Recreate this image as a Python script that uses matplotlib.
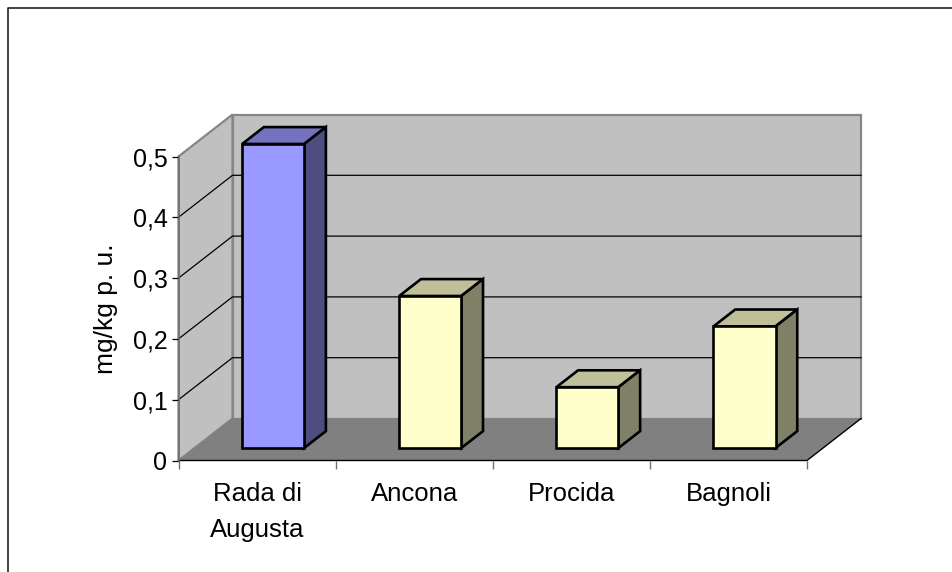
import numpy as np
import matplotlib
matplotlib.use('Agg')
import matplotlib.pyplot as plt
from matplotlib.lines import Line2D
from matplotlib.patches import Polygon

plt.rcParams['font.family'] = ['Liberation Sans', 'DejaVu Sans']

categories = ['Rada di\nAugusta', 'Ancona', 'Procida', 'Bagnoli']
values = [0.5, 0.25, 0.1, 0.2]
value_ticks = [0, 0.1, 0.2, 0.3, 0.4, 0.5]
value_labels = ['0', '0,1', '0,2', '0,3', '0,4', '0,5']
front_colors = ['#9999FF', '#FFFFCC', '#FFFFCC', '#FFFFCC']
top_colors = ['#7373BF', '#BFBF99', '#BFBF99', '#BFBF99']
side_colors = ['#4D4D80', '#808066', '#808066', '#808066']

W, H = 953, 572
fig = plt.figure(figsize=(W / 100, H / 100), dpi=100, facecolor='white')
ax = fig.add_axes([178.5 / W, 1 - 460.5 / H, 628.5 / W, 304 / H])
ax.set_xlim(0, len(categories))
ax.set_ylim(0, 0.5)
ax.patch.set_visible(False)
for side in ['top', 'right', 'left', 'bottom']:
    ax.spines[side].set_visible(False)

# depth of the box, in axis units
depth_x = 54 / 628.5 * len(categories)
depth_y = 42 / 304 * 0.5


def skew(x, y, d):
    # point x, y pushed back by a fraction d of the box depth
    return (x + d * depth_x, y + d * depth_y)


def poly(points, face, edge, lw, z):
    ax.add_patch(Polygon(points, closed=True, facecolor=face, edgecolor=edge,
                         linewidth=lw, joinstyle='miter', clip_on=False, zorder=z))


xmax = len(categories)
ymax = value_ticks[-1]
wall_edge = '#868686'

# back wall, side wall, floor
poly([skew(0, 0, 1), skew(xmax, 0, 1), skew(xmax, ymax, 1), skew(0, ymax, 1)],
     '#C0C0C0', wall_edge, 1.6, 1)
poly([skew(0, 0, 0), skew(0, 0, 1), skew(0, ymax, 1), skew(0, ymax, 0)],
     '#C0C0C0', wall_edge, 1.6, 1)
poly([skew(0, 0, 0), skew(xmax, 0, 0), skew(xmax, 0, 1), skew(0, 0, 1)],
     '#808080', 'none', 0, 1.5)

# gridlines across both walls
for v in value_ticks[1:-1]:
    x0, y0 = skew(0, v, 1)
    x1, y1 = skew(xmax, v, 1)
    ax.plot([0, x0, x1], [v, y0, y1], color='black', lw=0.9, clip_on=False, zorder=2)

# lower edge of the floor
x2, y2 = skew(xmax, 0, 1)
ax.plot([0, xmax, x2], [0, 0, y2], color='black', lw=1.0, clip_on=False, zorder=3)
ax.plot([0, 0], [0, ymax], color='#707070', lw=1.2, clip_on=False, zorder=3)

# bars
bar_w = 0.395
d_front = 0.298
d_back = 0.70
for i, val in enumerate(values):
    left = i + 0.5 - bar_w / 2
    right = left + bar_w
    fa = skew(left, 0, d_front)
    fb = skew(right, 0, d_front)
    ft_l = skew(left, val, d_front)
    ft_r = skew(right, val, d_front)
    bb = skew(right, 0, d_back)
    bt_r = skew(right, val, d_back)
    bt_l = skew(left, val, d_back)
    poly([ft_l, ft_r, bt_r, bt_l], top_colors[i], 'black', 1.9, 5)
    poly([fb, bb, bt_r, ft_r], side_colors[i], 'black', 1.9, 5)
    poly([fa, fb, ft_r, ft_l], front_colors[i], 'black', 1.9, 6)

ax.set_yticks(value_ticks)
ax.set_yticklabels(value_labels, fontsize=18)
ax.tick_params(axis='y', length=5, width=0.9, pad=3, color='black')
ax.set_ylabel('mg/kg p. u.', fontsize=19, labelpad=10.5)

ax.set_xticks(np.arange(xmax + 1))
ax.set_xticklabels([])
ax.set_xticks(np.arange(xmax) + 0.5, minor=True)
ax.set_xticklabels(categories, minor=True, fontsize=18.5, linespacing=1.63)
ax.tick_params(axis='x', which='major', length=6, width=1.0, color='#707070')
ax.tick_params(axis='x', which='minor', length=0, pad=15.5)

# outer frame, only the top and left edges fall inside the image
fig.add_artist(Line2D([8.3 / W, 8.3 / W, 1], [0, 1 - 8 / H, 1 - 8 / H],
                      color='#222222', lw=1.2))

fig.savefig('out.png', dpi=100)
